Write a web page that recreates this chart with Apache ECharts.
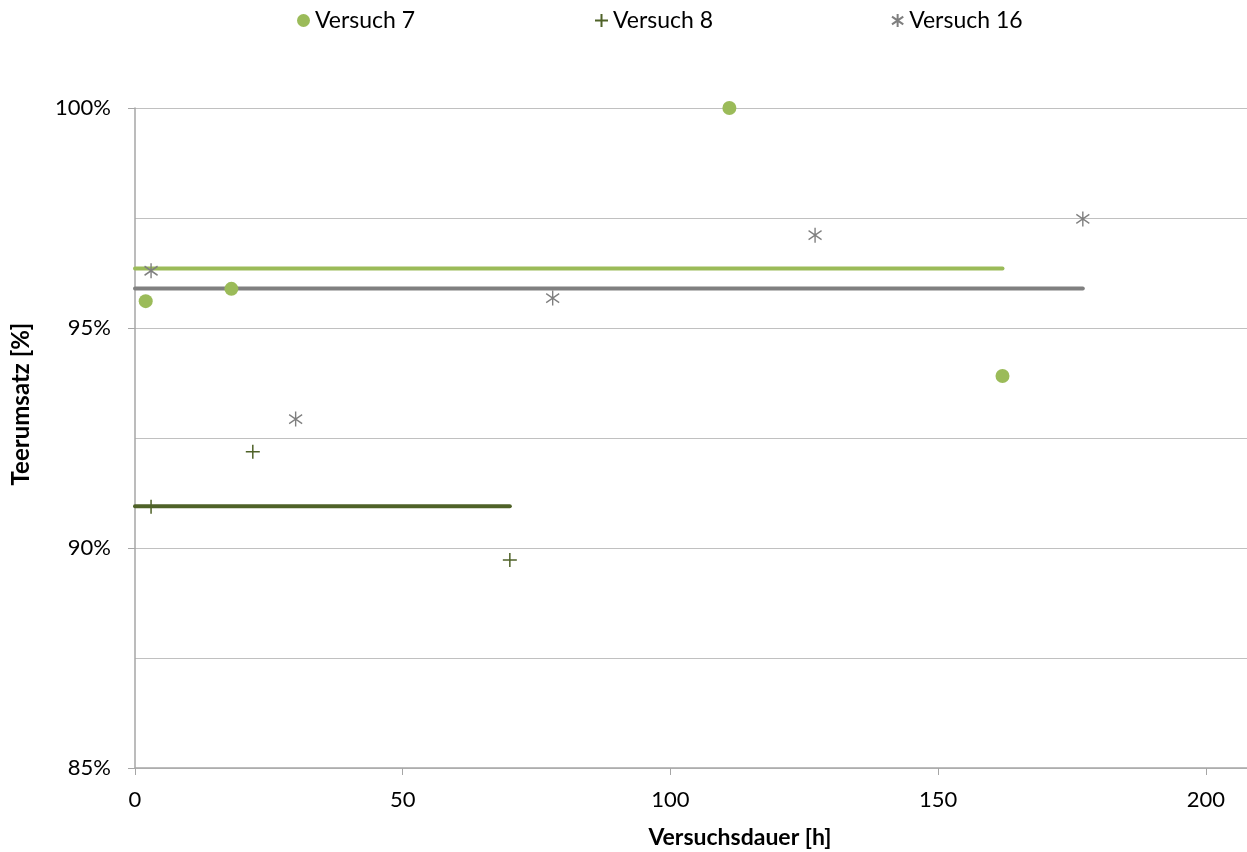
<!DOCTYPE html>
<html>
<head>
<meta charset="utf-8">
<script src="https://cdn.jsdelivr.net/npm/echarts@6/dist/echarts.min.js"></script>
<style>
  html, body { margin: 0; padding: 0; background: #fff; }
  #chart { width: 1247px; height: 852px; }
</style>
</head>
<body>
<div id="chart"></div>
<script>
// Versuchsdauer [h] and Teerumsatz [%] per test run
const v7Hours = [2, 18, 111, 162];
const v7Conv  = [95.61, 95.89, 100.0, 93.91];
const v8Hours = [3, 22, 70];
const v8Conv  = [90.94, 92.19, 89.73];
const v16Hours = [3, 30, 78, 127, 177];
const v16Conv  = [96.30, 92.93, 95.68, 97.11, 97.48];

// mean conversion per run, drawn from 0 h to the last measurement
const meanConv = { v7: 96.35, v8: 90.95, v16: 95.90 };
const yTickLabels = [85, 90, 95, 100];

const C7 = '#9BBB59', C8 = '#4F6228', C16 = '#7F7F7F';
const FONT = 'Lato, "Open Sans", sans-serif';

const plusPath = 'path://M7,0 L7,14 M0,7 L14,7';
const starPath = 'path://M6.5,0 L6.5,15 M0,3 L13,12 M0,12 L13,3';

const pts = (xs, ys) => xs.map((x, i) => [x, ys[i]]);
const meanLine = (xs, m) => [[0, m], [xs[xs.length - 1], m]];

const chart = echarts.init(document.getElementById('chart'), null, { renderer: 'canvas' });

const legendBase = {
  top: 9, padding: 0, itemWidth: 13, itemHeight: 13, itemGap: 0,
  textStyle: { fontFamily: FONT, fontSize: 23, color: '#000' },
  selectedMode: false
};

chart.setOption({
  animation: false,
  backgroundColor: '#fff',
  grid: { left: 135, top: 108, right: 0, height: 660 },
  legend: [
    Object.assign({}, legendBase, { left: 297, data: ['Versuch 7'] }),
    Object.assign({}, legendBase, { left: 594, data: ['Versuch 8'] }),
    Object.assign({}, legendBase, { left: 891, data: ['Versuch 16'] })
  ],
  xAxis: {
    type: 'value', min: 0, max: 207.66, interval: 50,
    axisLine: { show: true, lineStyle: { color: '#A6A6A6', width: 1.5 } },
    axisTick: { show: true, length: 7, lineStyle: { color: '#A6A6A6', width: 1 } },
    axisLabel: { margin: 21, fontFamily: FONT, fontSize: 22, color: '#000', showMaxLabel: false },
    splitLine: { show: false }
  },
  yAxis: {
    type: 'value', min: yTickLabels[0], max: yTickLabels[yTickLabels.length - 1], interval: 5,
    axisLine: { show: true, lineStyle: { color: '#A6A6A6', width: 1.5 } },
    axisTick: { show: true, length: 7, lineStyle: { color: '#A6A6A6', width: 1 } },
    axisLabel: { margin: 24, fontFamily: FONT, fontSize: 22, color: '#000',
                 formatter: v => v + '%' },
    splitLine: { show: true, lineStyle: { color: '#C0C0C0', width: 1 } },
    minorTick: { show: false, splitNumber: 2 },
    minorSplitLine: { show: true, lineStyle: { color: '#C0C0C0', width: 1 } }
  },
  graphic: [
    { type: 'text', x: 740, y: 838, style: {
        text: 'Versuchsdauer [h]', font: 'bold 23px ' + FONT, fill: '#000',
        textAlign: 'center', textVerticalAlign: 'middle' } },
    { type: 'text', x: 21, y: 404, rotation: Math.PI / 2, style: {
        text: 'Teerumsatz [%]', font: 'bold 24px ' + FONT, fill: '#000',
        textAlign: 'center', textVerticalAlign: 'middle' } }
  ],
  series: [
    { name: 'mean7', type: 'line', data: meanLine(v7Hours, meanConv.v7), symbol: 'none',
      lineStyle: { color: C7, width: 4, cap: 'round' }, z: 2, silent: true },
    { name: 'mean8', type: 'line', data: meanLine(v8Hours, meanConv.v8), symbol: 'none',
      lineStyle: { color: C8, width: 4, cap: 'round' }, z: 2, silent: true },
    { name: 'mean16', type: 'line', data: meanLine(v16Hours, meanConv.v16), symbol: 'none',
      lineStyle: { color: '#808080', width: 4, cap: 'round' }, z: 2, silent: true },
    { name: 'Versuch 7', type: 'scatter', data: pts(v7Hours, v7Conv),
      symbol: 'circle', symbolSize: 14, itemStyle: { color: C7, opacity: 1 }, z: 3 },
    { name: 'Versuch 8', type: 'scatter', data: pts(v8Hours, v8Conv),
      symbol: plusPath, symbolSize: 14,
      itemStyle: { color: 'rgba(0,0,0,0)', borderColor: C8, borderWidth: 1.5, opacity: 1 }, z: 3 },
    { name: 'Versuch 16', type: 'scatter', data: pts(v16Hours, v16Conv),
      symbol: starPath, symbolSize: [13, 15],
      itemStyle: { color: 'rgba(0,0,0,0)', borderColor: C16, borderWidth: 1.5, opacity: 1 }, z: 3 }
  ]
});
</script>
</body>
</html>
